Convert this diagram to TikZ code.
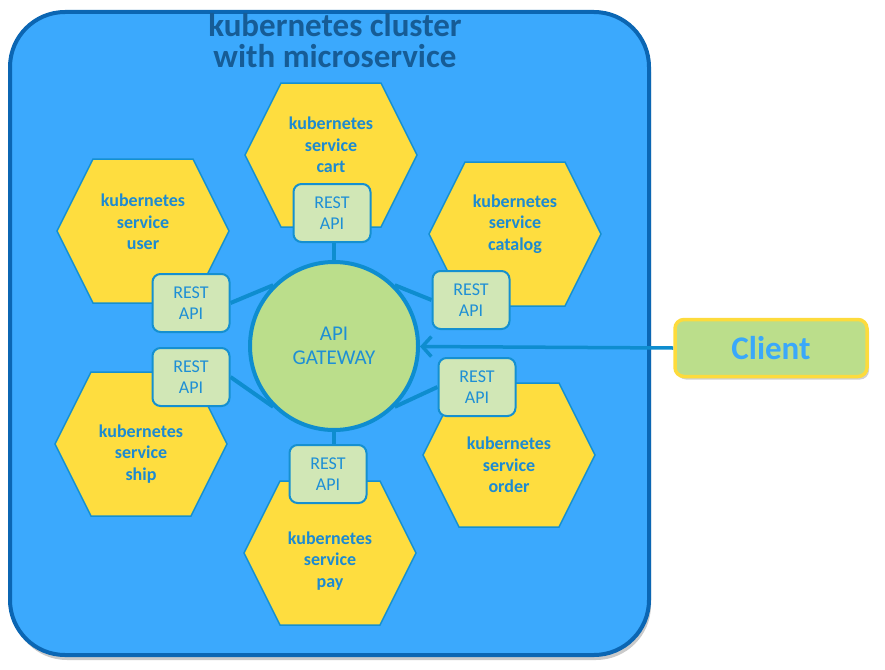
\documentclass[tikz,border=0pt]{standalone}
\usepackage{fontspec}
\setmainfont{Carlito}
\usetikzlibrary{arrows.meta,shadows}
\pgfdeclarelayer{back}
\pgfdeclarelayer{mid}
\pgfsetlayers{back,mid,main}
\definecolor{clusterfill}{HTML}{3BA9FD}
\definecolor{clusterborder}{HTML}{0B66B3}
\definecolor{hexfill}{HTML}{FEDD3F}
\definecolor{hexborder}{HTML}{1590D0}
\definecolor{hextext}{HTML}{1C8AD2}
\definecolor{boxfill}{HTML}{D1E7B6}
\definecolor{boxtext}{HTML}{1E8FD5}
\definecolor{gwfill}{HTML}{BBDE8B}
\definecolor{linecol}{HTML}{0E8DCF}
\definecolor{clientborder}{HTML}{FDDB3C}
\definecolor{clienttext}{HTML}{3AA8FA}
\definecolor{titlecol}{HTML}{165C96}
\newcommand{\hexsvc}[5]{%
  \begin{scope}[shift={(#2,#3)}]
    \draw[hexshape] (-86,0) -- (-50,-72) -- (50,-72) -- (86,0) -- (50,72) -- (-50,72) -- cycle;
    \node[svctext] (#1) at (0,#5) {kubernetes\\service\\#4};
  \end{scope}}
\begin{document}
\begin{tikzpicture}[x=1pt,y=-1pt,
  cluster/.style={draw=clusterborder, line width=4pt, fill=clusterfill, rounded corners=55pt,
    minimum width=639pt, minimum height=643pt, inner sep=0pt,
    drop shadow={shadow xshift=2pt, shadow yshift=-5pt, opacity=0.35, fill=black!60}},
  titletext/.style={font=\bfseries\fontsize{33}{31}\selectfont, inner sep=0pt},
  hexshape/.style={draw=hexborder, line width=1.5pt, fill=hexfill},
  svctext/.style={font=\bfseries\fontsize{18}{21.5}\selectfont, text=hextext, align=center, inner sep=0pt},
  restbox/.style={draw=hexborder, line width=2pt, fill=boxfill, rounded corners=8pt,
    minimum width=77pt, minimum height=58pt, inner sep=0pt, align=center,
    font=\fontsize{18}{21}\selectfont, text=boxtext},
  gateway/.style={circle, draw=linecol, line width=4pt, fill=gwfill, minimum size=168pt,
    inner sep=0pt, align=center, font=\fontsize{21}{24}\selectfont, text=boxtext},
  conn/.style={draw=linecol, line width=4pt},
  client/.style={draw=clientborder, line width=3.5pt, fill=gwfill, rounded corners=9pt,
    minimum width=192pt, minimum height=57pt, inner sep=0pt,
    font=\bfseries\fontsize{33}{36}\selectfont, text=clienttext,
    drop shadow={shadow xshift=2pt, shadow yshift=-3pt, opacity=0.3, fill=black!60}}
]
\useasboundingbox (0,0) rectangle (885,669);

\begin{pgfonlayer}{back}
  \node[cluster] (cluster) at (329.5,333.5) {};
  \node[titletext, text=titlecol, anchor=base] (title1) at (335,37) {kubernetes cluster};
  \node[titletext, text=titlecol, anchor=base] (title2) at (335,67) {with microservice};
  \hexsvc{cart}{331}{155}{cart}{-10}
  \hexsvc{user}{143}{231}{user}{-9}
  \hexsvc{catalog}{515}{234}{catalog}{-10}
  \hexsvc{ship}{141}{444}{ship}{10}
  \hexsvc{order}{509}{455}{order}{10}
  \hexsvc{pay}{330}{553}{pay}{8}
\end{pgfonlayer}

\node[gateway] (gw) at (334,346) {API\\GATEWAY};
\node[restbox] (rcart) at (332,213) {REST\\API};
\node[restbox] (ruser) at (191,303) {REST\\API};
\node[restbox] (rship) at (191,377) {REST\\API};
\node[restbox] (rcatalog) at (471,300) {REST\\API};
\node[restbox] (rorder) at (477,387) {REST\\API};
\node[restbox] (rpay) at (328,474) {REST\\API};
\node[client] (client) at (771,348) {Client};

\begin{pgfonlayer}{mid}
  \draw[conn] (gw.north) -- (gw.north |- rcart.south);
  \draw[conn] (gw.south) -- (gw.south |- rpay.north);
  \draw[conn] (ruser.east) -- (gw.135);
  \draw[conn] (rship.east) -- (gw.225);
  \draw[conn] (rcatalog.west) -- (gw.45);
  \draw[conn] (rorder.west) -- (gw.-45);
  \draw[conn, line width=3.5pt, -{Straight Barb[length=9pt,width=20pt,line width=3.5pt]}] (client.west) -- (gw);
\end{pgfonlayer}
\end{tikzpicture}
\end{document}
